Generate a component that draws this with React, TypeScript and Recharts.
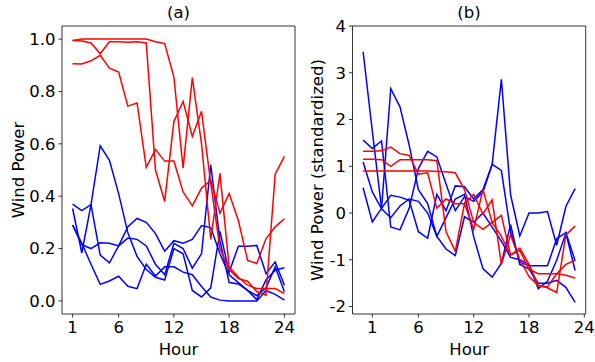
import { LineChart, Line, XAxis, YAxis, ReferenceLine } from 'recharts';

// hours on the x axis: panel (a) uses 1..24, panel (b) is plotted 0..23
const hoursA = [1, 2, 3, 4, 5, 6, 7, 8, 9, 10, 11, 12, 13, 14, 15, 16, 17, 18, 19, 20, 21, 22, 23, 24];
const hoursB = [0, 1, 2, 3, 4, 5, 6, 7, 8, 9, 10, 11, 12, 13, 14, 15, 16, 17, 18, 19, 20, 21, 22, 23];

const hourTicks = [1, 6, 12, 18, 24];
const powerTicks = [0, 0.2, 0.4, 0.6, 0.8, 1.0];
const stdTicks = [-2, -1, 0, 1, 2, 3, 4];

// (a) wind power, red days
const redA1 = [0.995, 1.0, 1.0, 1.0, 1.0, 1.0, 1.0, 1.0, 1.0, 0.99, 0.983, 0.855, 0.507, 0.853, 0.6, 0.235, 0.487, 0.13, 0.09, 0.06, 0.047, 0.047, 0.047, 0.028];
const redA2 = [0.995, 0.993, 0.985, 0.944, 0.99, 0.99, 0.988, 0.99, 0.985, 0.5, 0.38, 0.685, 0.762, 0.628, 0.724, 0.45, 0.2, 0.12, 0.085, 0.075, 0.035, 0.022, 0.484, 0.552];
const redA3 = [0.906, 0.905, 0.917, 0.938, 0.889, 0.874, 0.744, 0.756, 0.51, 0.578, 0.534, 0.534, 0.416, 0.363, 0.431, 0.46, 0.335, 0.41, 0.307, 0.155, 0.143, 0.237, 0.283, 0.314];

// (a) wind power, blue days
const blueA1 = [0.37, 0.345, 0.368, 0.592, 0.537, 0.41, 0.26, 0.17, 0.12, 0.09, 0.08, 0.2, 0.18, 0.04, 0.015, 0.05, 0.265, 0.11, 0.209, 0.209, 0.212, 0.104, 0.149, 0.06];
const blueA2 = [0.353, 0.183, 0.368, 0.175, 0.145, 0.21, 0.283, 0.315, 0.3, 0.257, 0.19, 0.23, 0.22, 0.235, 0.288, 0.28, 0.18, 0.1, 0.07, 0.04, 0.02, 0.05, 0.13, 0.035];
const blueA3 = [0.29, 0.215, 0.2, 0.222, 0.22, 0.21, 0.24, 0.235, 0.21, 0.14, 0.1, 0.22, 0.2, 0.125, 0.18, 0.52, 0.23, 0.07, 0.065, 0.04, 0.005, 0.08, 0.117, 0.127];
const blueA4 = [0.29, 0.22, 0.14, 0.063, 0.076, 0.094, 0.056, 0.047, 0.14, 0.095, 0.13, 0.13, 0.11, 0.1, 0.055, 0.015, 0.003, 0.0, 0.0, 0.0, 0.0, 0.04, 0.025, 0.003];

// (b) standardized, red days
const redB1 = [1.32, 1.32, 1.33, 1.41, 1.27, 1.23, 0.83, 0.86, 0.1, 0.3, 0.2, 0.2, 0.4, -0.02, 0.28, -1.1, -0.47, -1.0, -1.36, -1.55, -1.6, -1.7, -0.47, -0.28];
const redB2 = [1.15, 1.15, 1.14, 1.0, 1.14, 1.14, 1.14, 1.14, 1.12, -0.4, -0.82, 0.2, -0.35, 0.5, -0.2, -0.5, -0.9, -0.8, -1.2, -1.3, -1.3, -1.3, -1.33, -1.39];
const redB3 = [0.9, 0.9, 0.9, 0.9, 0.9, 0.9, 0.9, 0.9, 0.89, 0.88, 0.86, 0.5, -0.2, -0.35, -0.2, -0.05, -0.9, -0.75, -1.1, -1.55, -1.58, -1.3, -1.1, -1.01];

// (b) standardized, blue days
const blueB1 = [1.56, 1.38, 1.54, -0.3, -0.36, 0.1, 0.95, 1.32, 1.2, 0.62, 0.05, 0.35, 0.25, 0.45, 1.04, 2.86, 0.39, -0.49, 0.0, 0.0, 0.03, -0.69, 0.14, 0.52];
const blueB2 = [0.54, -0.19, 0.1, 2.66, 2.27, 1.45, 0.5, 0.2, -0.5, -0.77, -0.91, -0.08, -0.2, 0.0, -0.3, -0.6, -0.95, -1.0, -1.1, -1.62, -1.46, -1.01, -0.43, -1.23];
const blueB3 = [3.45, 1.75, 0.1, 0.38, 0.34, 0.27, -0.4, -0.54, 0.4, 0.05, 0.58, 0.56, 0.3, 0.5, 1.04, 0.91, -0.4, -1.05, -1.13, -1.13, -1.13, -0.55, -0.42, -1.02];
const blueB4 = [1.09, 0.45, 0.09, -0.1, 0.15, 0.3, 0.25, 0.0, -0.5, -0.1, 0.3, 0.4, -0.51, -1.19, -1.37, -1.08, -0.25, -1.1, -1.2, -1.5, -1.5, -1.44, -1.59, -1.91];

const BLUE = '#0000ff';
const RED = '#ff0000';
const FONT = '"DejaVu Sans", sans-serif';
const FS = 16.5;

const seriesA = [
  { key: 'b1', values: blueA1, color: BLUE },
  { key: 'b2', values: blueA2, color: BLUE },
  { key: 'b3', values: blueA3, color: BLUE },
  { key: 'b4', values: blueA4, color: BLUE },
  { key: 'r1', values: redA1, color: RED },
  { key: 'r2', values: redA2, color: RED },
  { key: 'r3', values: redA3, color: RED },
];

const seriesB = [
  { key: 'b1', values: blueB1, color: BLUE },
  { key: 'b2', values: blueB2, color: BLUE },
  { key: 'b3', values: blueB3, color: BLUE },
  { key: 'b4', values: blueB4, color: BLUE },
  { key: 'r1', values: redB1, color: RED },
  { key: 'r2', values: redB2, color: RED },
  { key: 'r3', values: redB3, color: RED },
];

type Series = { key: string; values: number[]; color: string };

function buildRows(hours: number[], series: Series[]) {
  return hours.map((h, i) => {
    const row: Record<string, number> = { hour: h };
    series.forEach(s => { row[s.key] = s.values[i]; });
    return row;
  });
}

const tickStyle = { fontSize: FS, fill: '#000', fontFamily: FONT };
const frame = { stroke: '#000', strokeWidth: 0.8 };

function Panel(props: {
  series: Series[];
  hours: number[];
  width: number;
  xDomain: number[];
  yDomain: number[];
  yTicks: number[];
  yFormat?: (v: number) => string;
  yLabel: string;
  yAxisWidth: number;
  labelOffset: number;
  marginRight: number;
}) {
  const rows = buildRows(props.hours, props.series);
  return (
    <LineChart
      width={props.width}
      height={362}
      data={rows}
      margin={{ top: 26, right: props.marginRight, bottom: 0, left: 0 }}
    >
      <XAxis
        dataKey="hour"
        type="number"
        domain={props.xDomain}
        ticks={hourTicks}
        height={48}
        tickSize={3.5}
        tickMargin={4}
        tick={tickStyle}
        axisLine={frame}
        tickLine={frame}
        label={{ value: 'Hour', position: 'insideBottom', offset: 7, fill: '#000', fontSize: FS, fontFamily: FONT }}
      />
      <YAxis
        type="number"
        domain={props.yDomain}
        ticks={props.yTicks}
        width={props.yAxisWidth}
        tickSize={3.5}
        tickMargin={3}
        tick={tickStyle}
        tickFormatter={props.yFormat}
        axisLine={frame}
        tickLine={frame}
        label={{
          value: props.yLabel,
          angle: -90,
          position: 'insideLeft',
          offset: props.labelOffset,
          fill: '#000',
          fontSize: FS,
          fontFamily: FONT,
          style: { textAnchor: 'middle' },
        }}
      />
      {/* top and right spines */}
      <ReferenceLine y={props.yDomain[1]} stroke="#000" strokeWidth={0.8} />
      <ReferenceLine x={props.xDomain[1]} stroke="#000" strokeWidth={0.8} />
      {props.series.map(s => (
        <Line
          key={s.key}
          dataKey={s.key}
          stroke={s.color}
          strokeWidth={1.5}
          dot={false}
          isAnimationActive={false}
        />
      ))}
    </LineChart>
  );
}

const titleStyle = {
  position: 'absolute' as const,
  top: 5,
  width: 100,
  textAlign: 'center' as const,
  fontFamily: FONT,
  fontSize: FS,
  lineHeight: '16px',
  color: '#000',
};

export default function App() {
  return (
    <div style={{ position: 'absolute', left: 0, top: 0, width: 595, height: 362, background: '#fff' }}>
      <div style={{ position: 'absolute', left: 0, top: 0 }}>
        <Panel
          series={seriesA}
          hours={hoursA}
          width={300}
          xDomain={[-0.15, 25.15]}
          yDomain={[-0.05, 1.05]}
          yTicks={powerTicks}
          yFormat={(v: number) => v.toFixed(1)}
          yLabel="Wind Power"
          yAxisWidth={62}
          labelOffset={18}
          marginRight={5}
        />
      </div>
      <div style={{ position: 'absolute', left: 300, top: 0 }}>
        <Panel
          series={seriesB}
          hours={hoursB}
          width={295}
          xDomain={[-1.15, 24.15]}
          yDomain={[-2.16, 4]}
          yTicks={stdTicks}
          yLabel="Wind Power (standardized)"
          yAxisWidth={52.5}
          labelOffset={17}
          marginRight={9.3}
        />
      </div>
      <div style={{ ...titleStyle, left: 128.5 }}>(a)</div>
      <div style={{ ...titleStyle, left: 419 }}>(b)</div>
    </div>
  );
}
